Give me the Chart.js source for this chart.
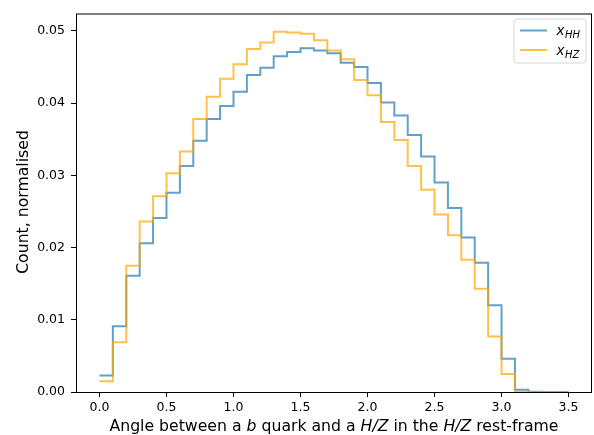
<!DOCTYPE html>
<html>
<head>
<meta charset="utf-8">
<script src="https://cdn.jsdelivr.net/npm/chart.js@4.4.0/dist/chart.umd.min.js"></script>
<style>
  html, body { margin: 0; padding: 0; background: #fff; }
  #wrap { width: 594px; height: 435px; }
</style>
</head>
<body>
<div id="wrap"><canvas id="angleChart" width="594" height="435"></canvas></div>
<script>
// bin edges of the histogram (35 bins of 0.1)
const binEdges = [0.0, 0.1, 0.2, 0.3, 0.4, 0.5, 0.6, 0.7, 0.8, 0.9,
  1.0, 1.1, 1.2, 1.3, 1.4, 1.5, 1.6, 1.7, 1.8, 1.9,
  2.0, 2.1, 2.2, 2.3, 2.4, 2.5, 2.6, 2.7, 2.8, 2.9,
  3.0, 3.1, 3.2, 3.3, 3.4, 3.5];

// normalised counts
const hhCounts = [0.0023, 0.0091, 0.0161, 0.0206, 0.0241, 0.0276, 0.0313, 0.0348, 0.0378, 0.0396,
  0.0416, 0.0439, 0.0449, 0.0465, 0.0471, 0.0476, 0.0473, 0.0469, 0.0456, 0.0450,
  0.0428, 0.0401, 0.0383, 0.0356, 0.0326, 0.0290, 0.0255, 0.0214, 0.0179, 0.0120,
  0.0046, 0.0003, 0.00003, 0.0, 0.0];
const hzCounts = [0.0015, 0.0069, 0.0175, 0.0236, 0.0271, 0.0303, 0.0333, 0.0378, 0.0409, 0.0434,
  0.0454, 0.0475, 0.0484, 0.0499, 0.0498, 0.0496, 0.0487, 0.0473, 0.0461, 0.0432,
  0.0411, 0.0374, 0.0349, 0.0313, 0.0280, 0.0246, 0.0217, 0.0183, 0.0143, 0.0077,
  0.0025, 0.00003, 0.0, 0.0, 0.0];

const xTicks = [0.0, 0.5, 1.0, 1.5, 2.0, 2.5, 3.0, 3.5];
const yTicks = [0.00, 0.01, 0.02, 0.03, 0.04, 0.05];

const seriesNames = ["HH", "HZ"];
const blue = "rgba(31, 119, 180, 0.7)";
const orange = "rgba(255, 165, 0, 0.7)";
const FONT = "DejaVu Sans";
const TITLE_SIZE = 15.7;

// step outline: one point per left edge, plus the last right edge
function stepPoints(counts) {
  const pts = counts.map((v, i) => ({ x: binEdges[i], y: v }));
  pts.push({ x: binEdges[binEdges.length - 1], y: counts[counts.length - 1] });
  return pts;
}

// frame, axis titles and legend (mathtext style) drawn by hand
const decorPlugin = {
  id: "decor",
  afterDraw(chart) {
    const ctx = chart.ctx;
    const a = chart.chartArea;
    ctx.save();

    // axes box
    ctx.strokeStyle = "#000";
    ctx.lineWidth = 1;
    ctx.strokeRect(a.left + 0.5, a.top + 0.5, a.right - a.left - 1, a.bottom - a.top);

    // y title
    ctx.fillStyle = "#000";
    ctx.font = TITLE_SIZE + "px '" + FONT + "'";
    ctx.textAlign = "center";
    ctx.textBaseline = "middle";
    ctx.save();
    ctx.translate(24, 202);
    ctx.rotate(-Math.PI / 2);
    ctx.fillText("Count, normalised", 0, 0);
    ctx.restore();

    // x title with italic parts
    const parts = [
      ["Angle between a ", false], ["b", true], [" quark and a ", false],
      ["H/Z", true], [" in the ", false], ["H/Z", true], [" rest-frame", false]
    ];
    const fontFor = it => (it ? "italic " : "") + TITLE_SIZE + "px '" + FONT + "'";
    let total = 0;
    parts.forEach(p => { ctx.font = fontFor(p[1]); total += ctx.measureText(p[0]).width; });
    let x = (a.left + a.right) / 2 - total / 2;
    ctx.textAlign = "left";
    ctx.textBaseline = "alphabetic";
    parts.forEach(p => {
      ctx.font = fontFor(p[1]);
      ctx.fillText(p[0], x, 431);
      x += ctx.measureText(p[0]).width;
    });

    // legend
    const bx = 514, by = 19, bw = 72, bh = 44, r = 3;
    ctx.beginPath();
    ctx.moveTo(bx + r, by);
    ctx.arcTo(bx + bw, by, bx + bw, by + bh, r);
    ctx.arcTo(bx + bw, by + bh, bx, by + bh, r);
    ctx.arcTo(bx, by + bh, bx, by, r);
    ctx.arcTo(bx, by, bx + bw, by, r);
    ctx.closePath();
    ctx.fillStyle = "rgba(255,255,255,0.8)";
    ctx.fill();
    ctx.strokeStyle = "#d6d6d6";
    ctx.lineWidth = 1;
    ctx.stroke();

    const rows = [[blue, seriesNames[0], 30.5], [orange, seriesNames[1], 50]];
    rows.forEach(([col, sub, ly]) => {
      ctx.strokeStyle = col;
      ctx.lineWidth = 2;
      ctx.beginPath();
      ctx.moveTo(520, ly);
      ctx.lineTo(547, ly);
      ctx.stroke();
      ctx.fillStyle = "#000";
      ctx.font = "italic 13.5px '" + FONT + "'";
      ctx.fillText("x", 556.5, ly + 4.5);
      const w = ctx.measureText("x").width;
      ctx.font = "italic 10px '" + FONT + "'";
      ctx.fillText(sub, 556.5 + w + 0.5, ly + 7.5);
    });

    ctx.restore();
  }
};

const angleChart = new Chart(document.getElementById("angleChart"), {
  type: "line",
  data: {
    datasets: [
      {
        label: "x_HH",
        data: stepPoints(hhCounts),
        borderColor: blue,
        borderWidth: 2,
        stepped: "before",
        pointRadius: 0,
        fill: false,
        order: 2
      },
      {
        label: "x_HZ",
        data: stepPoints(hzCounts),
        borderColor: orange,
        borderWidth: 2,
        stepped: "before",
        pointRadius: 0,
        fill: false,
        order: 1
      }
    ]
  },
  options: {
    responsive: false,
    animation: false,
    devicePixelRatio: 1,
    layout: { padding: { top: 13, right: 2, left: 0, bottom: 0 } },
    plugins: {
      legend: { display: false },
      tooltip: { enabled: false }
    },
    scales: {
      x: {
        type: "linear",
        min: -0.175,
        max: 3.675,
        afterBuildTicks: s => { s.ticks = xTicks.map(v => ({ value: v })); },
        afterFit: s => { s.height = 43; },
        grid: { drawOnChartArea: false, drawTicks: true, tickLength: 5, tickColor: "#000", tickWidth: 1 },
        border: { display: false },
        ticks: {
          color: "#000",
          font: { family: FONT, size: 12.5 },
          padding: 3,
          maxRotation: 0,
          autoSkip: false,
          callback: v => Number(v).toFixed(1)
        }
      },
      y: {
        type: "linear",
        min: 0,
        max: 0.05242,
        afterBuildTicks: s => { s.ticks = yTicks.map(v => ({ value: v })); },
        afterFit: s => { s.width = 76; },
        grid: { drawOnChartArea: false, drawTicks: true, tickLength: 5, tickColor: "#000", tickWidth: 1 },
        border: { display: false },
        ticks: {
          color: "#000",
          font: { family: FONT, size: 12.5 },
          padding: 6,
          autoSkip: false,
          callback: v => Number(v).toFixed(2)
        }
      }
    }
  },
  plugins: [decorPlugin]
});
</script>
</body>
</html>
